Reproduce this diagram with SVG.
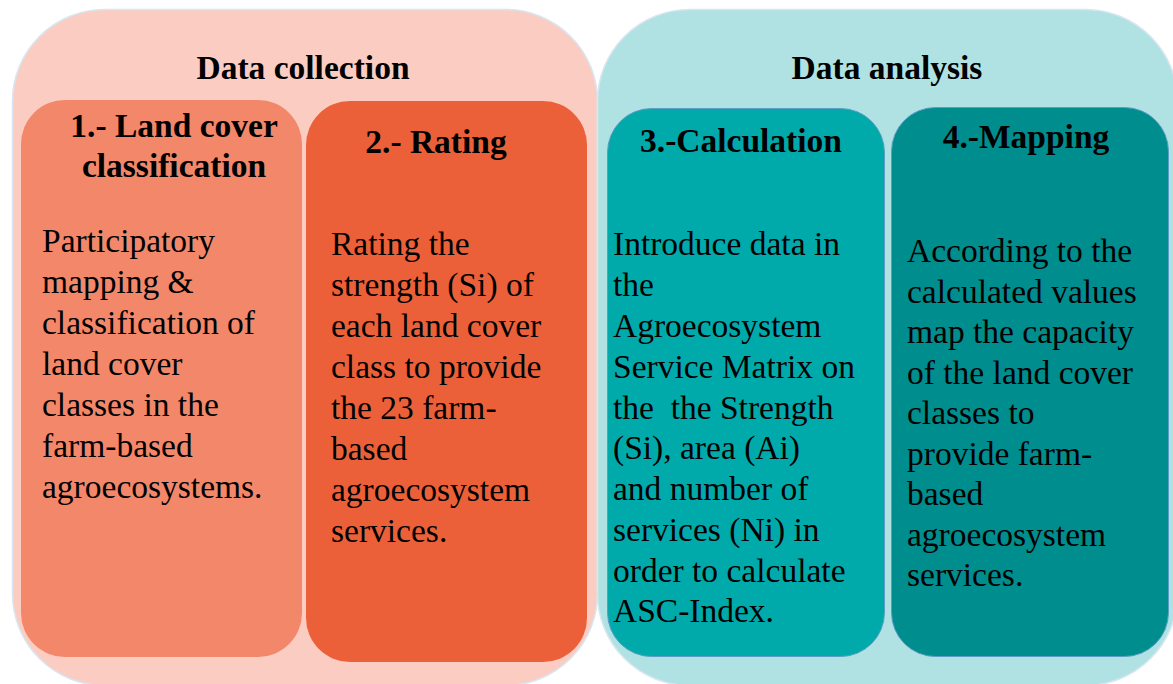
<svg xmlns="http://www.w3.org/2000/svg" width="1173" height="684" viewBox="0 0 1173 684">
<style>
.t{font-family:"Liberation Serif","Times New Roman",serif;fill:#000}
.h{font-size:33.5px;font-weight:bold;text-anchor:middle}
.b{font-size:33.5px}
</style>
<rect width="1173" height="684" fill="#ffffff"/>
<g id="data-collection">
<rect x="12.5" y="9.5" width="585" height="676" rx="92" fill="#fbcdc2" stroke="#d7e6f0" stroke-width="1.5"/>
<text class="t h" x="303" y="79">Data collection</text>
</g>
<g id="data-analysis">
<rect x="597.5" y="9.5" width="580" height="676" rx="92" fill="#b0e2e3" stroke="#d7e6f0" stroke-width="1.5"/>
<text class="t h" x="887" y="79">Data analysis</text>
</g>
<g id="n1">
<rect x="21" y="100" width="281" height="557" rx="44" fill="#f3876a"/>
<text class="t h" x="174" y="137">1.- Land cover</text>
<text class="t h" x="174" y="177">classification</text>
<text class="t b">
<tspan x="42" y="252">Participatory</tspan>
<tspan x="42" y="293">mapping &amp;</tspan>
<tspan x="42" y="334">classification of</tspan>
<tspan x="42" y="375">land cover</tspan>
<tspan x="42" y="416">classes in the</tspan>
<tspan x="42" y="457">farm-based</tspan>
<tspan x="42" y="498">agroecosystems.</tspan>
</text>
</g>
<g id="n2">
<rect x="306" y="101" width="281" height="561" rx="44" fill="#ec6039"/>
<text class="t h" x="436" y="153">2.- Rating</text>
<text class="t b">
<tspan x="331" y="255">Rating the</tspan>
<tspan x="331" y="296">strength (Si) of</tspan>
<tspan x="331" y="337">each land cover</tspan>
<tspan x="331" y="378">class to provide</tspan>
<tspan x="331" y="419">the 23 farm-</tspan>
<tspan x="331" y="460">based</tspan>
<tspan x="331" y="501">agroecosystem</tspan>
<tspan x="331" y="542">services.</tspan>
</text>
</g>
<g id="n3">
<rect x="607.5" y="108.5" width="277" height="548" rx="44" fill="#00aaab" stroke="#5e9cc4" stroke-width="1"/>
<text class="t h" x="741" y="152">3.-Calculation</text>
<text class="t b">
<tspan x="613" y="255">Introduce data in</tspan>
<tspan x="613" y="296">the</tspan>
<tspan x="613" y="337">Agroecosystem</tspan>
<tspan x="613" y="378">Service Matrix on</tspan>
<tspan x="613" y="419">the &#160;the Strength</tspan>
<tspan x="613" y="459">(Si), area (Ai)</tspan>
<tspan x="613" y="500">and number of</tspan>
<tspan x="613" y="541">services (Ni) in</tspan>
<tspan x="613" y="582">order to calculate</tspan>
<tspan x="613" y="622">ASC-Index.</tspan>
</text>
</g>
<g id="n4">
<rect x="891.5" y="107.5" width="277" height="549" rx="44" fill="#008d8e" stroke="#5e9cc4" stroke-width="1"/>
<text class="t h" x="1026" y="148">4.-Mapping</text>
<text class="t b">
<tspan x="907" y="262">According to the</tspan>
<tspan x="907" y="302.5">calculated values</tspan>
<tspan x="907" y="343">map the capacity</tspan>
<tspan x="907" y="383.5">of the land cover</tspan>
<tspan x="907" y="424">classes to</tspan>
<tspan x="907" y="464.5">provide farm-</tspan>
<tspan x="907" y="505">based</tspan>
<tspan x="907" y="545.5">agroecosystem</tspan>
<tspan x="907" y="586">services.</tspan>
</text>
</g>
<g id="connectors"/>
</svg>
